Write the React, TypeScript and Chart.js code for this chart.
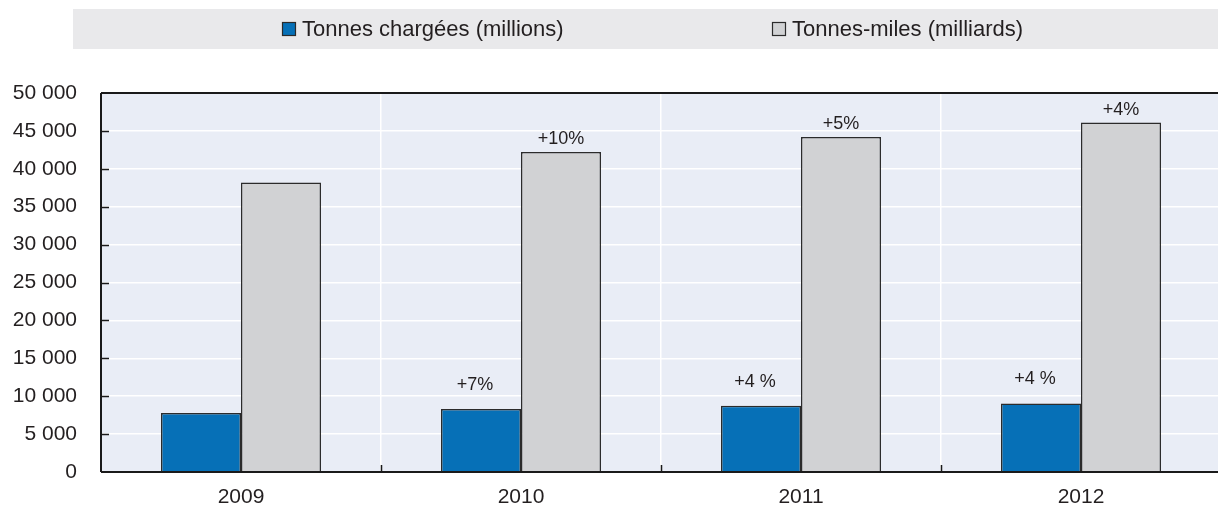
import React, { useEffect, useRef } from "react";
import { Chart, registerables } from "chart.js";

Chart.register(...registerables);

const years = ["2009", "2010", "2011", "2012"];
const tonnesLoaded = [7800, 8300, 8750, 9050];
const tonneMiles = [38200, 42200, 44200, 46100];
const tonnesLoadedLabels = ["", "+7%", "+4 %", "+4 %"];
const tonneMilesLabels = ["", "+10%", "+5%", "+4%"];
const seriesNames = ["Tonnes chargées (millions)", "Tonnes-miles (milliards)"];

const FONT = "'Liberation Sans', Arial, sans-serif";
const TEXT = "#231f20";
const BLUE = "#0670b7";
const GREY = "#d1d2d4";
const EDGE = "#2b2b2b";

const decorPlugin = {
  id: "decor",
  beforeDraw(chart: any) {
    const { ctx, chartArea } = chart;
    ctx.save();
    ctx.fillStyle = "#e9e9eb";
    ctx.fillRect(73, 9, 1160, 40);
    ctx.fillStyle = "#e9edf6";
    ctx.fillRect(chartArea.left, chartArea.top, chartArea.right - chartArea.left, chartArea.bottom - chartArea.top);
    const items = [
      { x: 282, color: BLUE, label: chart.data.datasets[0].label },
      { x: 772, color: GREY, label: chart.data.datasets[1].label },
    ];
    ctx.font = `22px ${FONT}`;
    ctx.textBaseline = "middle";
    ctx.textAlign = "left";
    for (const it of items) {
      ctx.fillStyle = it.color;
      ctx.fillRect(it.x, 22, 14, 14);
      ctx.strokeStyle = EDGE;
      ctx.lineWidth = 1.2;
      ctx.strokeRect(it.x + 0.5, 22.5, 13, 13);
      ctx.fillStyle = TEXT;
      ctx.fillText(it.label, it.x + 20, 30);
    }
    ctx.restore();
  },
  afterDatasetsDraw(chart: any) {
    const { ctx, chartArea, scales } = chart;
    const y = scales.y;
    const x = scales.x;
    ctx.save();
    ctx.strokeStyle = "#1a1a1a";
    ctx.lineWidth = 2;
    ctx.beginPath();
    ctx.moveTo(chartArea.left, chartArea.top);
    ctx.lineTo(chartArea.right + 5, chartArea.top);
    ctx.moveTo(chartArea.left, chartArea.top);
    ctx.lineTo(chartArea.left, chartArea.bottom);
    ctx.moveTo(chartArea.left, chartArea.bottom);
    ctx.lineTo(chartArea.right + 5, chartArea.bottom);
    ctx.stroke();
    ctx.lineWidth = 1.5;
    ctx.beginPath();
    for (const t of y.ticks) {
      const py = Math.round(y.getPixelForValue(t.value)) + 0.5;
      if (t.value === 0 || t.value === 50000) continue;
      ctx.moveTo(chartArea.left, py);
      ctx.lineTo(chartArea.left + 8, py);
    }
    for (let i = 1; i < years.length; i++) {
      const px = Math.round((x.getPixelForValue(i - 1) + x.getPixelForValue(i)) / 2) + 0.5;
      ctx.moveTo(px, chartArea.bottom);
      ctx.lineTo(px, chartArea.bottom - 7);
    }
    ctx.stroke();
    ctx.fillStyle = TEXT;
    ctx.font = `18px ${FONT}`;
    ctx.textAlign = "center";
    ctx.textBaseline = "middle";
    const sets = [
      { idx: 0, labels: tonnesLoadedLabels, dy: 24, dx: -6 },
      { idx: 1, labels: tonneMilesLabels, dy: 13, dx: 0 },
    ];
    for (const s of sets) {
      const meta = chart.getDatasetMeta(s.idx);
      meta.data.forEach((bar: any, i: number) => {
        const txt = s.labels[i];
        if (!txt) return;
        ctx.fillText(txt, bar.x + s.dx, bar.y - s.dy);
      });
    }
    ctx.restore();
  },
};

export default function App() {
  const ref = useRef<HTMLCanvasElement | null>(null);
  useEffect(() => {
    if (!ref.current) return;
    const chart = new Chart(ref.current, {
      type: "bar",
      data: {
        labels: years,
        datasets: [
          {
            label: seriesNames[0],
            data: tonnesLoaded,
            backgroundColor: BLUE,
            borderColor: EDGE,
            borderWidth: 1.5,
            borderSkipped: "bottom",
          },
          {
            label: seriesNames[1],
            data: tonneMiles,
            backgroundColor: GREY,
            borderColor: EDGE,
            borderWidth: 1.5,
            borderSkipped: "bottom",
          },
        ],
      },
      options: {
        responsive: false,
        animation: false,
        maintainAspectRatio: false,
        categoryPercentage: 0.5714,
        barPercentage: 1,
        layout: { padding: { top: 93, left: 0, right: 0, bottom: 0 } },
        plugins: { legend: { display: false }, tooltip: { enabled: false } },
        scales: {
          x: {
            offset: true,
            grid: { display: true, color: "#ffffff", lineWidth: 1.5, drawTicks: false, offset: true },
            border: { display: false },
            ticks: { color: TEXT, font: { family: FONT, size: 21 }, padding: 13 },
            afterFit(scale: any) {
              scale.height = 38;
            },
          },
          y: {
            min: 0,
            max: 50000,
            grid: { color: "#ffffff", lineWidth: 1.5, drawTicks: false },
            border: { display: false },
            ticks: {
              stepSize: 5000,
              color: TEXT,
              font: { family: FONT, size: 21 },
              padding: 24,
              callback: (v: any) => {
                const n = Number(v);
                if (n < 1000) return String(n);
                const th = Math.floor(n / 1000);
                const rest = String(n % 1000).padStart(3, "0");
                return `${th} ${rest}`;
              },
            },
            afterFit(scale: any) {
              scale.width = 101;
            },
          },
        },
      },
      plugins: [decorPlugin],
    });
    return () => chart.destroy();
  }, []);
  return (
    <div style={{ position: "fixed", left: 0, top: 0, width: 1218, height: 510, overflow: "hidden", background: "#fff" }}>
      <canvas ref={ref} width={1221} height={510} style={{ display: "block", width: 1221, height: 510 }} />
    </div>
  );
}
